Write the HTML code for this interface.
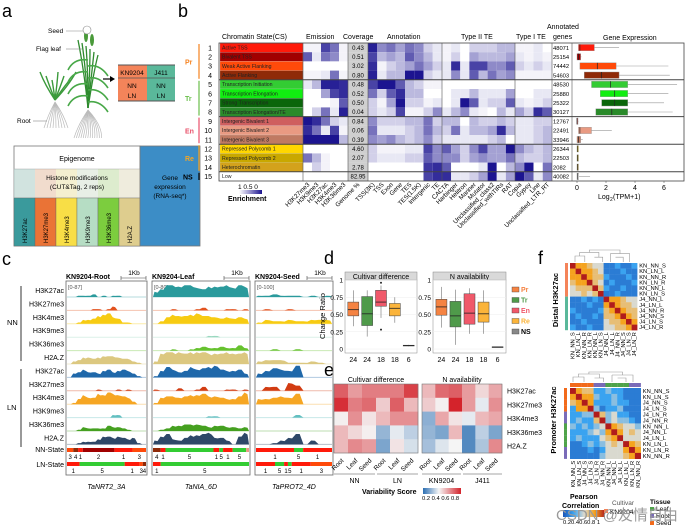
<!DOCTYPE html>
<html><head><meta charset="utf-8">
<style>
html,body{margin:0;padding:0;background:#fff;}
svg{display:block;font-family:"Liberation Sans",Arial,sans-serif;}
</style></head>
<body>
<svg id="fig" width="685" height="530" viewBox="0 0 685 530" xmlns="http://www.w3.org/2000/svg">
<rect x="0" y="0" width="685" height="530" fill="#fff"/>
</svg>
<script>
// ---------- DATA ----------
// Panel b
const csNames=["Active TSS","Bivalent TSS","Weak Active Flanking","Active Flanking","Transcription Initiation","Transcription Elongation","Strong Transcription","Transcription Elongation/TE","Intergenic Bivalent 1","Intergenic Bivalent 2","Intergenic Bivalent 3","Repressed Polycomb 1","Repressed Polycomb 2","Heterochromatin","Low"];
const csColors=["#ff1a0a","#a00000","#ff4a0a","#8f2a08","#33cc33","#11ee11","#0a660a","#2a8a2a","#cf5f5f","#e99a82","#c07a62","#ffd700","#c9a800","#d3a21c","#ffffff"];
const emissionLabels=["H3K27me3","H3K9me3","H3K27ac","H3K4me3","H3K36me3"];
const emission=[[.05,.05,.8,.6,.05],[.7,.1,.6,.5,.05],[0,0,0,0,0],[.05,.05,.1,.6,.05],[.1,.3,.95,.95,.9],[0,0,.4,.8,.9],[0,0,0,.05,.7],[0,.2,.6,.1,.95],[1,.9,.6,.2,.1],[.9,.6,.1,.8,.05],[1,1,1,1,.3],[0,0,0,0,0],[.6,.3,.05,0,0],[0,.2,.05,0,0],[0,0,0,0,0]];
const coverage=["0.43","0.51","3.02","0.80","0.48","0.52","0.50","0.04","0.84","0.06","0.39","4.60","2.07","2.78","82.95"];
const annotLabels=["TSS(3K)","TSS","Exon","Gene","TES","TES(1.5K)","Intergenic","TE"];
const annot=[[.95,.5,.6,.4,.6,.5,.2,.1],[.8,.3,.4,.3,.7,.5,.3,.1],[.9,.05,.2,.3,.4,.6,.4,.2],[.95,.1,.3,.3,1,1,.2,.1],[.8,1,1,.7,.3,.2,.05,.05],[.6,.2,.7,.9,.3,.3,0,0],[.2,.05,.4,1,.2,.2,.05,.1],[.2,.1,.2,.8,.05,.05,.2,.5],[.5,.2,.2,.2,.3,.3,.6,.2],[.6,.1,.1,.1,.2,.3,.6,.3],[.5,.4,.5,.3,.2,.3,.5,.2],[.2,.05,.05,.05,.1,.1,.8,.5],[.2,.1,.1,.1,.2,.2,.7,.5],[0,0,0,0,0,0,.85,.9],[0,0,0,0,0,0,.8,.9]];
const type2Labels=["CACTA","Harbinger","Helitron","Mariner","Mutator","Unclassified_class2","Unclassified_withTIRs","RAT"];
const type2=[[.05,.1,0,.2,.2,.2,.3,.3],[.05,.2,0,.4,.3,.3,.3,.4],[.1,.9,.1,.8,.8,.5,.5,.7],[.1,.5,.1,.7,.3,.6,.4,.5],[0,0,0,0,0,0,0,0],[0,.1,.1,.3,.1,.1,.1,.4],[0,.1,1,.7,.1,.2,.2,.7],[.1,.3,.5,.1,.05,0,.3,.1],[.3,.3,0,.3,.2,.2,.3,.2],[.2,.6,.1,.3,.3,.4,.9,.3],[.1,.1,.1,.1,.1,.2,.3,0],[.7,.4,.2,.5,.8,.4,.4,1],[.5,.5,.2,.4,.5,.4,.4,.6],[.7,0,0,0,.1,1,0,.3],[.9,.1,.1,.2,.4,1,.1,.4]];
const type1Labels=["Copia","Gypsy","Line","Unclassified_LTR_RT"];
const type1=[[.05,.05,.1,0],[.1,.05,.1,.05],[.2,.1,.2,.1],[.05,.05,.05,.05],[0,0,0,0],[0,0,.1,.1],[.1,.05,.1,.2],[.4,.2,.9,.7],[.1,.1,.2,.2],[.1,.1,.2,.3],[.1,.1,.2,.3],[.5,.3,.2,.3],[.3,.2,.2,.3],[.5,1,0,.6],[1,.7,.1,.5]];
const annotatedGenes=["48071","25154","74442","54603","48530","25880","25322","30127","12767","22491","33946","26344","22503","2082","40082"];
const exprMin=[0,0,0,0,0,0,0,0,0,0,0,0,0,0,0];
const exprQ1=[0.1,0,0.2,0.5,1.0,1.6,1.7,1.3,0,0.1,0,0,0,0,0];
const exprMed=[0.2,0.1,1.4,1.7,2.3,2.6,2.6,2.4,0,0.2,0.1,0.05,0.05,0.05,0.05];
const exprQ3=[1.2,0.25,2.7,2.9,3.5,3.5,3.5,3.5,0.05,1.0,0.25,0.1,0.1,0.1,0.12];
const exprMax=[2.9,0.3,6.3,6.4,6.9,6.3,6.0,6.6,0.1,2.4,0.4,0.1,0.1,0.1,0.9];
const exprTicks=[0,2,4,6];
// Panel d
const boxGroups=["Pr","Tr","En","Re","NS"];
const boxCounts=["24","24","18","18","6"];
const cultQ=[[.33,.48,.57,.68,.85],[.18,.34,.51,.76,.85],[.45,.62,.68,.85,.92],[.38,.48,.59,.66,.75],[.04,.045,.05,.055,.06]];
const cultOut=[[],[],[.28,.96],[],[]];
const nQ=[[.31,.49,.61,.72,.9],[.06,.32,.48,.69,.86],[.22,.36,.52,.80,.88],[.22,.39,.51,.68,.85],[.025,.028,.03,.032,.035]];
const dTicks=[0,0.25,0.5,0.75,1];
const dTickLabels=["0","0.25","0.50","0.75","1"];
// Panel e
const eRows=["H3K27ac","H3K27me3","H3K4me3","H3K36me3","H2A.Z"];
const eColsCult=["Root","Leaf","Seed","Root","Leaf","Seed"];
const eColsN=["Root","Leaf","Seed","Root","Leaf","Seed"];
const eCult=[[.7,.6,.65,.65,.65,.75],[.78,.65,.68,.52,.7,.55],[.46,.62,.48,.55,.62,.62],[.55,.5,.46,.33,.43,.38],[.55,.63,.6,.3,.48,.41]];
const eN=[[.55,.68,.7,.6,.5,.58],[.52,.46,.8,.6,.43,.62],[.32,.58,.48,.43,.55,.58],[.33,.3,.55,.25,.38,.3],[.35,.42,.45,.25,.36,.63]];
// Panel f
const distalLabels=["KN_NN_S","KN_LN_L","KN_NN_R","KN_LN_R","KN_NN_L","KN_LN_S","J4_NN_L","J4_LN_L","J4_NN_R","J4_NN_S","J4_LN_S","J4_LN_R"];
const distalCorr=["977655223223","797765222322","779766322232","677965232223","566696322322","556569223222","223232977655","222322797665","322223679766","232232667976","223222566797","322322556679"];
const promLabels=["KN_NN_S","KN_LN_S","J4_NN_S","J4_LN_S","J4_LN_R","J4_NN_R","KN_NN_L","J4_NN_L","J4_LN_L","KN_LN_L","KN_LN_R","KN_NN_R"];
const promCorr=["976633433222","797743343222","679733343322","377942334222","334496453322","343369454432","434345976554","333454797565","343335679555","223434565976","222323555797","222224555679"];
// Panel c
const trackNames=["H3K27ac","H3K27me3","H3K4me3","H3K9me3","H3K36me3","H2A.Z","H3K27ac","H3K27me3","H3K4me3","H3K9me3","H3K36me3","H2A.Z"];
const trackColors=["#2a9a9c","#e2521e","#f7cb12","#9ad8bf","#66c22e","#dcc880","#1f68aa","#d23c12","#f6a623","#62bfc0","#45a020","#2e4868"];
const sigRoot=["0011120101100000","0000011013000000","0013346785411000","0000000000000000","0000000000000000","0235545666544210","0346443564565310","0000001000101000","0147558798765200","0000000002200000","0013222243321000","0012224665654510"];
const sigLeaf=["4699899768889798","0001000120001101","0257667866545454","0000000001100000","0001001232232242","2899989998889889","1586458678965563","1000200130001101","1566567786654469","0000000001100000","0124455543443323","3684357789553069"];
const sigSeed=["1121110101","0100100000","1322322333","0000000000","0010010000","2333111210","3576590000","0330640000","4456580000","0000020000","0000000000","0013580300"];
const nnStates=[[[3,.08],[4,.06],[1,.06],[2,.4],[1,.23],[3,.17]],[[4,.08],[1,.05],[5,.5],[1,.06],[5,.04],[1,.1],[5,.14],[1,.0],[10,.03]],[[1,.5],[5,.12],[1,.38]]];
const lnStates=[[[1,.16],[5,.57],[1,.19],[3,.04],[4,.04]],[[1,.08],[5,.92]],[[1,.25],[5,.12],[1,.05],[5,.05],[1,.25],[3,.28]]];

// ---------- HELPERS ----------
const NS="http://www.w3.org/2000/svg";
const SV=document.getElementById('fig');
function mk(tag,a,name,parent){
  const e=document.createElementNS(NS,tag);
  for(const k in a) e.setAttribute(k,a[k]);
  
  
  (parent||SV).appendChild(e);
  return e;
}
function tx(x,y,s,size,name,opt){
  opt=opt||{};
  const a={x:x,y:y,'font-size':size,fill:opt.fill||'#000'};
  if(opt.anchor)a['text-anchor']=opt.anchor;
  if(opt.bold)a['font-weight']='bold';
  if(opt.italic)a['font-style']='italic';
  if(opt.rot!==undefined)a.transform='rotate('+opt.rot+' '+x+' '+y+')';
  const e=mk('text',a,name);
  e.textContent=s;
  return e;
}
function lerp(a,b,t){return a+(b-a)*t;}
function hex(c){return [parseInt(c.slice(1,3),16),parseInt(c.slice(3,5),16),parseInt(c.slice(5,7),16)];}
function ramp(stops,v){ // stops [[pos,color]]
  if(v<=stops[0][0])return stops[0][1];
  for(let i=1;i<stops.length;i++){
    if(v<=stops[i][0]){
      const t=(v-stops[i-1][0])/(stops[i][0]-stops[i-1][0]);
      const a=hex(stops[i-1][1]),b=hex(stops[i][1]);
      return 'rgb('+Math.round(lerp(a[0],b[0],t))+','+Math.round(lerp(a[1],b[1],t))+','+Math.round(lerp(a[2],b[2],t))+')';
    }
  }
  return stops[stops.length-1][1];
}
const purple=[[0,'#ffffff'],[1,'#1c1490']];
const divRB=[[0.2,'#2c6fb3'],[0.45,'#f5f5f5'],[0.8,'#d4232b']];
const corrMap=[[0.2,'#1b55b8'],[0.4,'#3aa3f0'],[0.6,'#d9d9cf'],[0.8,'#f5a31e'],[1,'#b01c1c']];

// ---------- PANEL LABELS ----------
tx(2,17,"a",18,"panel-label-a");
tx(178,17,"b",18,"panel-label-b");
tx(2,265,"c",18,"panel-label-c");
tx(324,264,"d",18,"panel-label-d");
tx(324,376,"e",18,"panel-label-e");
tx(538,264,"f",18,"panel-label-f");

// ---------- PANEL A ----------
(function(){
  // small plant
  const g=mk('g',{},'seedling-illustration');
  for(let i=0;i<7;i++){mk('path',{d:'M55 100 Q'+(45+i*4)+' 85 '+(40+i*6)+' '+(72+(i%3)*4),stroke:'#3b9a3b','stroke-width':1.4,fill:'none'},'seedling-leaf',g);}
  for(let i=0;i<9;i++){mk('path',{d:'M55 102 Q'+(48+i*2)+' 115 '+(44+i*3)+' 128',stroke:'#bbb','stroke-width':.7,fill:'none'},'seedling-root',g);}
  // tall plant
  const p=mk('g',{},'wheat-plant-illustration');
  for(let i=0;i<6;i++){mk('path',{d:'M88 108 Q'+(84+i*2)+' 70 '+(78+i*4)+' '+(40+i*3),stroke:'#2f8a2f','stroke-width':1.3,fill:'none'},'wheat-stem',p);}
  for(let i=0;i<8;i++){mk('path',{d:'M88 '+(60+i*6)+' Q'+(i%2?100:74)+' '+(58+i*6)+' '+(i%2?108:68)+' '+(70+i*6),stroke:'#48a848','stroke-width':1.6,fill:'none'},'wheat-leaf',p);}
  mk('ellipse',{cx:86,cy:36,rx:2,ry:6,fill:'#4a9a3a'},'wheat-ear',p);
  mk('ellipse',{cx:92,cy:40,rx:2,ry:6,fill:'#4a9a3a'},'wheat-ear',p);
  for(let i=0;i<13;i++){mk('path',{d:'M88 110 Q'+(78+i*2)+' 125 '+(74+i*2.3)+' 138',stroke:'#bbb','stroke-width':.7,fill:'none'},'wheat-root',p);}
  mk('circle',{cx:87,cy:30,r:4,fill:'#fff',stroke:'#888','stroke-width':.6},'seed-callout-circle');
  mk('line',{x1:66,y1:31,x2:83,y2:31,stroke:'#888','stroke-width':.6},'seed-callout-line');
  tx(48,33,"Seed",6.5,"seed-label");
  mk('line',{x1:66,y1:49,x2:82,y2:49,stroke:'#888','stroke-width':.6},'flag-leaf-callout-line');
  tx(36,51,"Flag leaf",6.5,"flag-leaf-label");
  mk('line',{x1:33,y1:121,x2:47,y2:121,stroke:'#888','stroke-width':.6},'root-callout-line');
  tx(17,123,"Root",6.5,"root-label");
  mk('path',{d:'M103 79 L113 79',stroke:'#000','stroke-width':1.2},'arrow-shaft');
  mk('path',{d:'M110 76 L115 79 L110 82 Z',fill:'#000'},'arrow-head');
  // cultivar table
  mk('rect',{x:118,y:65,width:29,height:36,fill:'#f4845a'},'kn9204-cell');
  mk('rect',{x:147,y:65,width:28,height:36,fill:'#5ab89a'},'j411-cell');
  mk('line',{x1:118,y1:65,x2:175,y2:65,stroke:'#555','stroke-width':1},'table-top-line');
  mk('line',{x1:118,y1:78,x2:175,y2:78,stroke:'#555','stroke-width':.8},'table-mid-line');
  mk('line',{x1:118,y1:101,x2:175,y2:101,stroke:'#555','stroke-width':1},'table-bottom-line');
  tx(132,75,"KN9204",6.5,"kn9204-header",{anchor:'middle'});
  tx(161,75,"J411",6.5,"j411-header",{anchor:'middle'});
  tx(132,88,"NN",6.5,"kn-nn",{anchor:'middle'});tx(161,88,"NN",6.5,"j4-nn",{anchor:'middle'});
  tx(132,98,"LN",6.5,"kn-ln",{anchor:'middle'});tx(161,98,"LN",6.5,"j4-ln",{anchor:'middle'});
  // epigenome box
  mk('rect',{x:14,y:146,width:126,height:100,fill:'#fff',stroke:'#777','stroke-width':.8},'epigenome-box');
  tx(77,161,"Epigenome",7,"epigenome-title",{anchor:'middle'});
  mk('rect',{x:14,y:169,width:126,height:29,fill:'#f3f3ee',stroke:'#aaa','stroke-width':.5},'histone-row');
  const hc=['#3a9a9c','#ea7336','#f8de46','#b6ddc4','#7ccd3e','#decd8e'];
  const hn=['H3K27ac','H3K27me3','H3K4me3','H3K9me3','H3K36me3','H2A.Z'];
  for(let i=0;i<6;i++){
    mk('rect',{x:14+i*21,y:169,width:21,height:29,fill:hc[i],opacity:.18},'histone-tint');
    mk('rect',{x:14+i*21,y:198,width:21,height:48,fill:hc[i],stroke:'#666','stroke-width':.4},'histone-column-'+hn[i].toLowerCase());
    tx(27+i*21,243,hn[i],6,'histone-label',{rot:-90});
  }
  tx(77,180,"Histone modifications",6.5,"histone-title",{anchor:'middle'});
  tx(77,189,"(CUT&Tag, 2 reps)",6.5,"histone-subtitle",{anchor:'middle'});
  mk('rect',{x:140,y:146,width:60,height:100,fill:'#3c8dc6',stroke:'#777','stroke-width':.8},'gene-expression-box');
  tx(170,180,"Gene",6.5,"gene-expression-label",{anchor:'middle'});
  tx(170,189,"expression",6.5,"gene-expression-label",{anchor:'middle'});
  tx(170,198,"(RNA-seq*)",6.5,"gene-expression-label",{anchor:'middle'});
})();

// ---------- PANEL B ----------
(function(){
  const top=43,rh=9.2;
  const ry=i=>top+i*rh;
  tx(222,39,"Chromatin State(CS)",7,"cs-header");
  tx(306,39,"Emission",7,"emission-header");
  tx(343,39,"Coverage",7,"coverage-header");
  tx(387,39,"Annotation",7,"annotation-header");
  tx(461,39,"Type II TE",7,"type2-header");
  tx(516,39,"Type I TE",7,"type1-header");
  tx(547,29,"Annotated",7,"annotated-genes-header");
  tx(553,39,"genes",7,"annotated-genes-header");
  tx(603,40,"Gene Expression",7,"gene-expression-header");
  const groups=[["Pr",0,4,'#f5821f'],["Tr",4,8,'#6abf4b'],["En",8,11,'#e8506a'],["Re",11,14,'#f5a623'],["NS",14,15,'#000']];
  groups.forEach(g=>{
    mk('line',{x1:199,y1:ry(g[1])+1,x2:199,y2:ry(g[2])-1,stroke:g[3],'stroke-width':1.2},'group-bar-'+g[0]);
    tx(g[0]==='NS'?183:185,(ry(g[1])+ry(g[2]))/2+3,g[0],7,'group-label-'+g[0],{fill:g[3],bold:true});
  });
  for(let i=0;i<15;i++){
    tx(212,ry(i)+7.3,String(i+1),7,'state-number',{anchor:'end'});
    mk('rect',{x:220,y:ry(i),width:83,height:rh,fill:csColors[i],stroke:'#ddd','stroke-width':.2},'state-'+(i+1));
    tx(222,ry(i)+6.4,csNames[i],5.2,'state-name',{fill:'#222'});
    emission[i].forEach((v,j)=>mk('rect',{x:303+j*9,y:ry(i),width:9,height:rh,fill:ramp(purple,v)},'emission-cell'));
    mk('rect',{x:348,y:ry(i),width:20,height:rh,fill:'#cfcfcf'},'coverage-cell');
    tx(358,ry(i)+6.8,coverage[i],6,'coverage-value',{anchor:'middle'});
    annot[i].forEach((v,j)=>mk('rect',{x:368+j*9.25,y:ry(i),width:9.25,height:rh,fill:ramp(purple,v)},'annotation-cell'));
    type2[i].forEach((v,j)=>mk('rect',{x:442+j*9.125,y:ry(i),width:9.125,height:rh,fill:ramp(purple,v)},'type2-te-cell'));
    type1[i].forEach((v,j)=>mk('rect',{x:515+j*9.25,y:ry(i),width:9.25,height:rh,fill:ramp(purple,v)},'type1-te-cell'));
    tx(553,ry(i)+6.8,annotatedGenes[i],5.8,'annotated-gene-count');
  }
  // grid lines
  [303,348,368,442,515,552,572].forEach(x=>mk('line',{x1:x,y1:top,x2:x,y2:ry(15),stroke:'#555','stroke-width':.6},'column-divider'));
  mk('rect',{x:219,y:top,width:465,height:15*rh,fill:'none',stroke:'#444','stroke-width':.8},'panel-b-frame');
  [4,8,11,14].forEach(k=>mk('line',{x1:219,y1:ry(k),x2:684,y2:ry(k),stroke:'#444','stroke-width':1},'group-divider'));
  // expression boxes
  const xs=v=>577+v*14.5;
  for(let i=0;i<15;i++){
    const cy=ry(i)+rh/2;
    mk('line',{x1:xs(exprQ3[i]),y1:cy,x2:xs(exprMax[i]),y2:cy,stroke:'#999','stroke-width':.6},'expr-whisker');
    mk('rect',{x:xs(exprQ1[i]),y:cy-3.2,width:Math.max(1,xs(exprQ3[i])-xs(exprQ1[i])),height:6.4,fill:csColors[i],stroke:'#999','stroke-width':.4},'expr-box-'+(i+1));
    mk('line',{x1:xs(exprMed[i]),y1:cy-3.2,x2:xs(exprMed[i]),y2:cy+3.2,stroke:'#222','stroke-width':.7},'expr-median');
  }
  exprTicks.forEach(t=>{
    mk('line',{x1:xs(t),y1:ry(15),x2:xs(t),y2:ry(15)+2,stroke:'#444','stroke-width':.5},'expr-tick');
    tx(xs(t),ry(15)+9,String(t),7,'expr-tick-label',{anchor:'middle'});
  });
  tx(598,199,"Log",7,"expr-axis-title");
  tx(610,201,"2",5,"expr-axis-sub");
  tx(613,199,"(TPM+1)",7,"expr-axis-title");
  // column labels
  const colLab=(x,s)=>tx(x,185,s,6.3,'column-label',{anchor:'end',rot:-45});
  emissionLabels.forEach((s,j)=>colLab(310+j*9,s));
  colLab(360,"Genome %");
  annotLabels.forEach((s,j)=>colLab(375+j*9.25,s));
  type2Labels.forEach((s,j)=>colLab(449+j*9.125,s));
  type1Labels.forEach((s,j)=>colLab(522+j*9.25,s));
  // enrichment legend
  const gd=mk('defs',{},'defs');
  const lg=mk('linearGradient',{id:'gPurple',x1:0,x2:1,y1:0,y2:0},'purple-gradient',gd);
  mk('stop',{offset:0,'stop-color':'#ffffff'},'stop',lg);mk('stop',{offset:1,'stop-color':'#1c1490'},'stop',lg);
  tx(238,189,"1 0.5 0",6.5,"enrichment-ticks");
  mk('rect',{x:239,y:190,width:23,height:4,fill:'url(#gPurple)'},'enrichment-colorbar');
  tx(228,201,"Enrichment",7,"enrichment-title",{bold:true});
})();

// ---------- PANEL C ----------
(function(){
  const panels=[[66,147,"KN9204-Root","[0-87]",sigRoot,"TaNRT2_3A"],[152,250,"KN9204-Leaf","[0-80]",sigLeaf,"TaNIA_6D"],[255,333,"KN9204-Seed","[0-100]",sigSeed,"TaPROT2_4D"]];
  const base=k=>297+k*13.4;
  trackNames.forEach((n,k)=>tx(64,base(k)-4,n,7,'track-label-'+n.toLowerCase(),{anchor:'end'}));
  tx(7,325,"NN",7.5,"nn-group-label");
  mk('line',{x1:21,y1:286,x2:21,y2:361,stroke:'#333','stroke-width':1},'nn-group-bar');
  tx(7,410,"LN",7.5,"ln-group-label");
  mk('line',{x1:21,y1:369,x2:21,y2:447,stroke:'#333','stroke-width':1},'ln-group-bar');
  tx(64,452,"NN-State",7,"nn-state-label",{anchor:'end'});
  tx(64,467,"LN-State",7,"ln-state-label",{anchor:'end'});
  const stateCol=s=>csColors[s-1];
  panels.forEach((p,pi)=>{
    const x0=p[0],x1=p[1],w=x1-x0;
    mk('rect',{x:x0,y:281,width:w,height:194,fill:'none',stroke:'#666','stroke-width':.8},'track-panel-'+pi);
    tx(x0,279,p[2],7,'track-panel-title',{bold:true});
    mk('path',{d:'M'+(x1-26)+' 276 V280 M'+(x1-26)+' 278 H'+(x1-1)+' M'+(x1-1)+' 276 V280',stroke:'#444','stroke-width':.6,fill:'none'},'scale-bar');
    tx(x1-13,275,"1Kb",6.5,'scale-bar-label',{anchor:'middle'});
    tx(x0+2,289,p[3],5.5,'track-range',{fill:'#555'});
    p[4].forEach((str,k)=>{
      const b=base(k),n=str.length;
      mk('line',{x1:x0+1,y1:b,x2:x1-1,y2:b,stroke:trackColors[k],'stroke-width':1,opacity:.35},'track-baseline');
      let d='M'+(x0+1)+' '+b;
      for(let i=0;i<n;i++){
        const v=+str[i];
        const xa=x0+1+(w-2)*i/n, xb=x0+1+(w-2)*(i+1)/n;
        d+=' L'+(xa+(xb-xa)*.25).toFixed(1)+' '+(b-v*1.3).toFixed(1)+' L'+(xa+(xb-xa)*.75).toFixed(1)+' '+(b-v*1.3*(0.85+0.15*((i%3)/2))).toFixed(1);
      }
      d+=' L'+(x1-1)+' '+b+' Z';
      mk('path',{d:d,fill:trackColors[k]},'signal-track-'+trackNames[k].toLowerCase());
    });
    [[nnStates[pi],448],[lnStates[pi],462]].forEach((sd,si)=>{
      let cx=x0+1;
      sd[0].forEach(seg=>{
        const sw=(w-2)*seg[1];
        mk('rect',{x:cx,y:sd[1],width:sw,height:4,fill:stateCol(seg[0])},si?'ln-state-segment':'nn-state-segment');
        if(sw>3)tx(cx+sw/2,sd[1]+11,String(seg[0]),6,'state-number-label',{anchor:'middle'});
        cx+=sw;
      });
    });
    tx((x0+x1)/2,489,p[5],7,'gene-name',{anchor:'middle',italic:true});
  });
})();

// ---------- PANEL D ----------
(function(){
  const yS=v=>349-v*69;
  const cols=['#f58342','#4f9a4a','#f0596a','#fbb43a','#888'];
  const panels=[[345,72,"Cultivar difference",cultQ,cultOut],[433,73,"N availability",nQ,[[],[],[],[],[]]]];
  tx(325,316,"Change Ratio",7.5,"d-y-axis-title",{anchor:'middle',rot:-90});
  panels.forEach((p,pi)=>{
    const x0=p[0],w=p[1];
    mk('rect',{x:x0,y:272,width:w,height:8,fill:'#d9d9d9',stroke:'#888','stroke-width':.5},'facet-strip');
    tx(x0+w/2,279,p[2],7,'facet-title',{anchor:'middle'});
    mk('rect',{x:x0,y:280,width:w,height:73,fill:'#fff',stroke:'#888','stroke-width':.5},'facet-plot-area');
    dTicks.forEach((t,j)=>{
      mk('line',{x1:x0,y1:yS(t),x2:x0+w,y2:yS(t),stroke:'#eee','stroke-width':.5},'gridline');
      tx(x0-2,yS(t)+2.5,dTickLabels[j],6.5,'d-y-tick',{anchor:'end'});
    });
    const cx=i=>x0+w*(0.6+i)/5.2;
    p[3].forEach((q,i)=>{
      const c=cx(i);
      mk('line',{x1:c,y1:yS(q[0]),x2:c,y2:yS(q[4]),stroke:'#555','stroke-width':.5},'box-whisker');
      mk('rect',{x:c-5.5,y:yS(q[3]),width:11,height:Math.max(.8,yS(q[1])-yS(q[3])),fill:cols[i],stroke:'#444','stroke-width':.5},'box-'+boxGroups[i].toLowerCase());
      mk('line',{x1:c-5.5,y1:yS(q[2]),x2:c+5.5,y2:yS(q[2]),stroke:'#222','stroke-width':.8},'box-median');
      p[4][i].forEach(o=>mk('circle',{cx:c,cy:yS(o),r:1,fill:'#222'},'box-outlier'));
      tx(c,362,boxCounts[i],7,'d-x-tick',{anchor:'middle'});
    });
  });
  boxGroups.forEach((g,i)=>{
    const y=291+i*10.5;
    mk('rect',{x:512,y:y-4,width:7,height:5,fill:cols[i],stroke:'#444','stroke-width':.4},'legend-swatch-'+g.toLowerCase());
    tx(521,y+1,g,7,'legend-label-'+g.toLowerCase(),{fill:i===4?'#000':cols[i],bold:true});
  });
})();

// ---------- PANEL E ----------
(function(){
  const top=384,rh=13.8;
  const pans=[[334,84,"Cultivar difference",eCult,eColsCult],[422,80,"N availability",eN,eColsN]];
  pans.forEach(p=>{
    const x0=p[0],w=p[1],cw=w/6;
    tx(x0+w/2,382,p[2],7,'e-facet-title',{anchor:'middle'});
    p[3].forEach((row,r)=>row.forEach((v,c)=>mk('rect',{x:x0+c*cw,y:top+r*rh,width:cw+.3,height:rh+.3,fill:ramp(divRB,v)},'e-heat-cell')));
    mk('rect',{x:x0,y:top,width:w,height:5*rh,fill:'none',stroke:'#777','stroke-width':.6},'e-heat-frame');
    p[4].forEach((s,c)=>tx(x0+c*cw+cw/2+3,461,s,6.5,'e-col-label',{anchor:'end',rot:-45}));
  });
  eRows.forEach((s,r)=>tx(507,top+r*rh+9.5,s,7,'e-row-label'));
  [[334,375,"NN"],[377,418,"LN"],[422,461,"KN9204"],[463,502,"J411"]].forEach(g=>{
    mk('line',{x1:g[0],y1:474,x2:g[1],y2:474,stroke:'#888','stroke-width':.8},'e-group-line');
    tx((g[0]+g[1])/2,483,g[2],7,'e-group-label',{anchor:'middle'});
  });
  tx(362,494,"Variability Score",7,"e-legend-title",{bold:true});
  const lg=mk('linearGradient',{id:'gRB',x1:0,x2:1,y1:0,y2:0},'rb-gradient',SV.querySelector('defs'));
  mk('stop',{offset:0,'stop-color':'#2c6fb3'},'stop',lg);mk('stop',{offset:.42,'stop-color':'#f5f5f5'},'stop',lg);mk('stop',{offset:1,'stop-color':'#d4232b'},'stop',lg);
  mk('rect',{x:423,y:488,width:38,height:6,fill:'url(#gRB)'},'e-colorbar');
  tx(422,500,"0.2 0.4 0.6 0.8",5.8,"e-colorbar-ticks");
})();

// ---------- PANEL F ----------
(function(){
  function heat(x0,y0,cs,corr,labels,name){
    corr.forEach((row,r)=>{for(let c=0;c<12;c++){
      const v=0.1+(+row[c])*0.1;
      mk('rect',{x:x0+c*cs,y:y0+r*cs,width:cs+.2,height:cs+.2,fill:ramp(corrMap,v)},name+'-cell');
    }});
    labels.forEach((s,i)=>{
      tx(x0+12*cs+2,y0+i*cs+cs-1,s,5.8,name+'-row-label');
      tx(x0+i*cs+cs-1,y0+12*cs+2,s,5.8,name+'-col-label',{anchor:'end',rot:-90});
    });
  }
  function dendro(x0,y0,w,h,name){
    const d='M'+(x0+3)+' '+(y0+h)+' V'+(y0+h*.5)+' H'+(x0+w*.2)+' V'+(y0+h)+' M'+(x0+w*.12)+' '+(y0+h*.5)+' V'+(y0+h*.2)+' H'+(x0+w*.42)+' V'+(y0+h*.6)+' M'+(x0+w*.35)+' '+(y0+h*.6)+' H'+(x0+w*.48)+' V'+(y0+h)+' M'+(x0+w*.27)+' '+(y0+h*.2)+' V'+y0+' H'+(x0+w*.75)+' V'+(y0+h*.3)+' M'+(x0+w*.6)+' '+(y0+h*.3)+' H'+(x0+w*.9)+' V'+(y0+h)+' M'+(x0+w*.6)+' '+(y0+h*.3)+' V'+(y0+h)+' M'+(x0+w*.68)+' '+(y0+h*.6)+' H'+(x0+w*.8)+' V'+(y0+h);
    mk('path',{d:d,stroke:'#999','stroke-width':.6,fill:'none'},name);
  }
  // distal
  dendro(572,250,64,12,'distal-dendrogram');
  heat(570,263,5.6,distalCorr,distalLabels,'distal-heatmap');
  mk('rect',{x:565,y:263,width:3,height:33.6,fill:'#f4845a'},'distal-cultivar-bar');
  mk('rect',{x:565,y:296.6,width:3,height:33.6,fill:'#5ab89a'},'distal-cultivar-bar');
  tx(558,300,"Distal H3K27ac",7.5,"distal-title",{anchor:'middle',bold:true,rot:-90});
  // promoter
  dendro(570,372,70,10,'promoter-dendrogram');
  const tc=['#f26a1b','#f26a1b','#f26a1b','#f26a1b','#7a6bb8','#7a6bb8','#4fa34a','#4fa34a','#4fa34a','#4fa34a','#7a6bb8','#7a6bb8'];
  tc.forEach((c,i)=>{
    mk('rect',{x:570+i*5.9,y:383,width:6,height:4,fill:c},'promoter-tissue-bar');
    mk('rect',{x:564,y:388+i*5.9,width:3,height:6,fill:c},'promoter-tissue-bar-left');
  });
  heat(570,388,5.9,promCorr,promLabels,'promoter-heatmap');
  tx(556,420,"Promoter H3K27ac",7.5,"promoter-title",{anchor:'middle',bold:true,rot:-90});
  // legends
  tx(570,499,"Pearson",7,"pearson-legend-title",{bold:true});
  tx(562,508,"Correlation",7,"pearson-legend-title",{bold:true});
  const lg=mk('linearGradient',{id:'gCorr',x1:0,x2:1,y1:0,y2:0},'corr-gradient',SV.querySelector('defs'));
  [[0,'#1b55b8'],[.25,'#3aa3f0'],[.5,'#d9d9cf'],[.75,'#f5a31e'],[1,'#b01c1c']].forEach(s=>mk('stop',{offset:s[0],'stop-color':s[1]},'stop',lg));
  mk('rect',{x:563,y:510,width:42,height:7,fill:'url(#gCorr)'},'corr-colorbar');
  tx(563,524,"0.20.40.60.8 1",5.8,"corr-colorbar-ticks");
  tx(612,505,"Cultivar",6.5,"cultivar-legend-title",{fill:'#555'});
  mk('rect',{x:604,y:509,width:4,height:4,fill:'#f4845a'},'kn9204-swatch');
  tx(610,514,"KN9204",6.5,"kn9204-legend-label");
  tx(650,504,"Tissue",6.5,"tissue-legend-title",{bold:true});
  [['Leaf','#4fa34a'],['Root','#7a6bb8'],['Seed','#f26a1b']].forEach((t,i)=>{
    mk('rect',{x:650,y:507+i*7,width:4,height:4,fill:t[1]},'tissue-swatch-'+t[0].toLowerCase());
    tx(656,511+i*7,t[0],6.5,'tissue-label-'+t[0].toLowerCase());
  });
  tx(556,520,"CSDN @友情自由",15,"watermark",{fill:'#9a9a9a'}).setAttribute('font-family','"Liberation Sans","Noto Sans CJK SC",sans-serif');
})();
</script>
</body></html>
